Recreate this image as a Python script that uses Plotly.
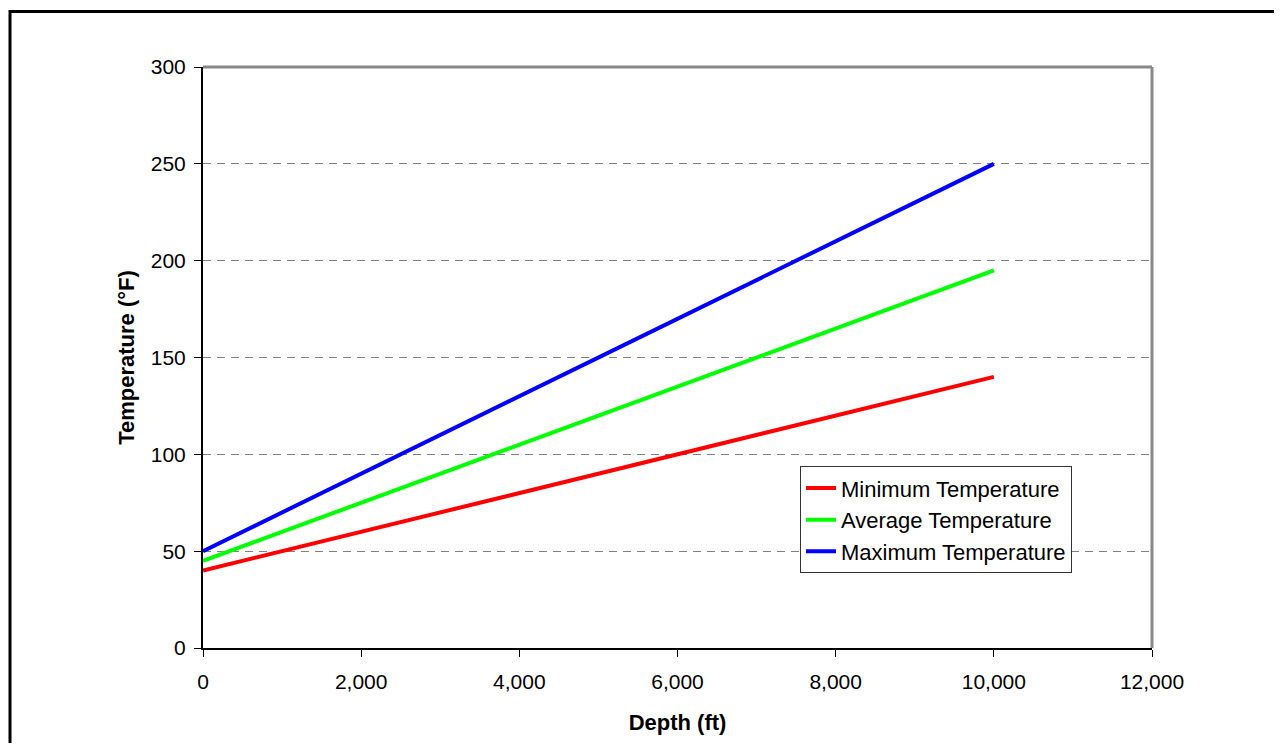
import plotly.graph_objects as go

depth = [0, 10000]
min_temp = [40, 140]
avg_temp = [45, 195]
max_temp = [50, 250]
series_names = ["Minimum Temperature", "Average Temperature", "Maximum Temperature"]
series_colors = ["#FF0000", "#00FF00", "#0000FF"]
x_ticks = [0, 2000, 4000, 6000, 8000, 10000, 12000]
y_ticks = [0, 50, 100, 150, 200, 250, 300]

OFF = 8  # page body margin
W, H = 1266, 735
L, T = 203 - OFF, 67 - OFF
R = OFF + W - 1152
B = OFF + H - 652
pw, ph = W - L - R, H - T - B

fig = go.Figure()
for name, vals, col in zip(series_names, [min_temp, avg_temp, max_temp], series_colors):
    fig.add_trace(go.Scatter(x=depth, y=vals, mode="lines", name=name,
                             line=dict(color=col, width=4)))

FAM = "Liberation Sans, Arial, sans-serif"

fig.update_layout(
    width=W, height=H,
    margin=dict(l=L, r=R, t=T, b=B),
    paper_bgcolor="white", plot_bgcolor="white",
    font=dict(family=FAM, size=21, color="black"),
    showlegend=True,
    legend=dict(x=(800 - 203) / pw, y=(652 - 469) / ph, xanchor="left", yanchor="top",
                bgcolor="white", bordercolor="#333333", borderwidth=1,
                font=dict(family=FAM, size=22, color="black"),
                tracegroupgap=0, itemwidth=30),
    xaxis=dict(range=[0, 12000], tickvals=x_ticks, tickformat=",d",
               showgrid=False, zeroline=False,
               showline=True, linecolor="black", linewidth=2,
               ticks="outside", ticklen=7, tickcolor="black", tickwidth=1,
               ticklabelstandoff=7,
               title=dict(text="<b>Depth (ft)</b>", font=dict(size=22), standoff=22),
               tickfont=dict(size=21)),
    yaxis=dict(range=[0, 300], tickvals=y_ticks,
               showgrid=True, gridcolor="#808080", griddash="8px,6px", gridwidth=1,
               zeroline=False,
               showline=True, linecolor="black", linewidth=2,
               ticks="outside", ticklen=7, tickcolor="black", tickwidth=1,
               ticklabelstandoff=4,
               title=dict(text="<b>Temperature (°F)</b>", font=dict(size=22), standoff=10),
               tickfont=dict(size=21)),
)

# plot area gray border (top and right)
fig.add_shape(type="line", xref="paper", yref="paper", x0=0, x1=1, y0=1, y1=1,
              line=dict(color="#888888", width=3), layer="above")
fig.add_shape(type="line", xref="paper", yref="paper", x0=1, x1=1, y0=0, y1=1,
              line=dict(color="#888888", width=3), layer="above")
# outer chart frame
fig.add_shape(type="rect", xref="paper", yref="paper",
              x0=(10 - 203) / pw, x1=(1300 - 203) / pw,
              y0=(652 - 780) / ph, y1=(652 - 11) / ph,
              line=dict(color="black", width=3), fillcolor="rgba(0,0,0,0)", layer="below")

fig.write_html("out.html")
